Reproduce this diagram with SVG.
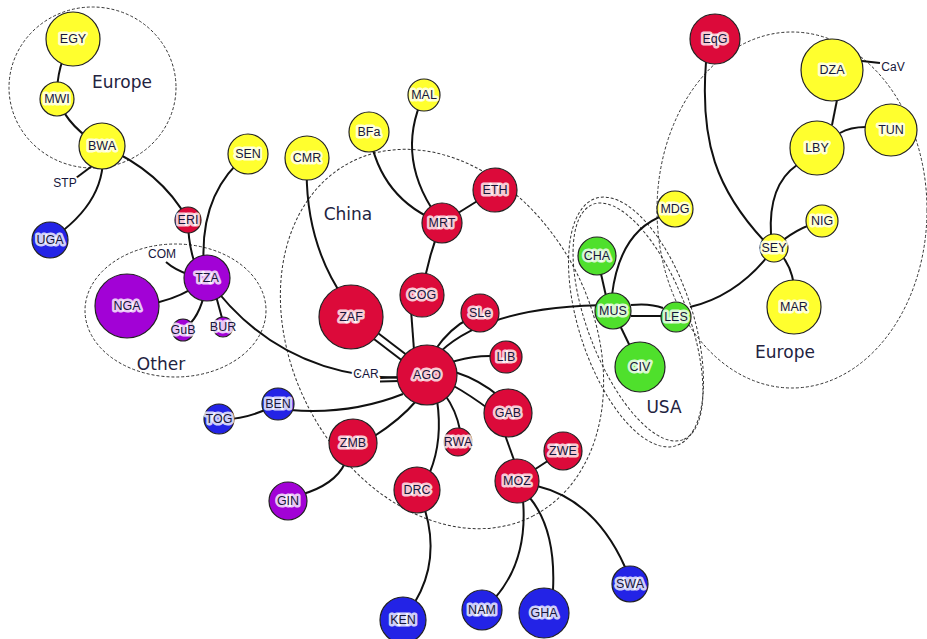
<svg xmlns="http://www.w3.org/2000/svg" width="927" height="639" viewBox="0 0 927 639">
<style>
.reg{fill:none;stroke:#333;stroke-width:1;stroke-dasharray:3 2}
.rl{font-family:"DejaVu Sans",sans-serif;font-size:17px;fill:#23233f;text-anchor:middle}
.e{fill:none;stroke:#111;stroke-width:2}
.n{stroke:#222;stroke-width:1.2}
.Y{fill:#ffff2e}.R{fill:#dc0a3a}.P{fill:#a202d6}.B{fill:#2323e6}.G{fill:#4fe02c}
.t{font-family:"Liberation Sans",Arial,sans-serif;font-size:12.5px;fill:#16163a;text-anchor:middle;paint-order:stroke;stroke:rgba(255,255,255,0.8);stroke-width:5px;stroke-linejoin:round}
.s{font-family:"Liberation Sans",Arial,sans-serif;font-size:12px;fill:#16163a;text-anchor:middle;paint-order:stroke;stroke:#fff;stroke-width:4px;stroke-linejoin:round}
</style>
<rect width="927" height="639" fill="#fff"/>
<g id="regions">
<ellipse class="reg" cx="92.5" cy="87.5" rx="83.5" ry="80.5"/>
<ellipse class="reg" cx="175.5" cy="310.5" rx="90.5" ry="66.5"/>
<ellipse class="reg" cx="442" cy="339" rx="199" ry="150" transform="rotate(62.6 442 339)"/>
<ellipse class="reg" cx="636" cy="322" rx="130" ry="57" transform="rotate(72 636 322)"/>
<ellipse class="reg" cx="638" cy="322" rx="126" ry="50" transform="rotate(69 638 322)"/>
<ellipse class="reg" cx="792" cy="210" rx="135" ry="178"/>
<text class="rl" x="122" y="88">Europe</text>
<text class="rl" x="161" y="370">Other</text>
<text class="rl" x="348" y="220">China</text>
<text class="rl" x="664" y="413">USA</text>
<text class="rl" x="785" y="358">Europe</text>
</g>
<g id="connectors">
<path class="e" d="M73 39 Q56 65 57 99"/>
<path class="e" d="M57 99 Q70 130 102 146"/>
<path class="e" d="M102 146 Q161 171 188 220"/>
<path class="e" d="M92 166 L72 181"/>
<path class="e" d="M102 146 Q110 200 50 240"/>
<path class="e" d="M188 220 Q188 250 200 278"/>
<path class="e" d="M248 154 C215 180 198 220 205 278"/>
<path class="e" d="M166 262 Q175 270 190 275"/>
<path class="e" d="M127 306 Q175 305 207 278"/>
<path class="e" d="M183 330 Q200 318 205 290"/>
<path class="e" d="M222 318 L216 296"/>
<path class="e" d="M207 278 Q280 380 410 378"/>
<path class="e" d="M380 378 L400 377"/>
<path class="e" d="M380 381.5 L400 381"/>
<path class="e" d="M307 158 Q303 240 345 300"/>
<path class="e" d="M349 320 L425 378"/>
<path class="e" d="M353 314 L429 372"/>
<path class="e" d="M369 132 Q380 200 442 223"/>
<path class="e" d="M424 95 Q393 160 442 223"/>
<path class="e" d="M495 190 L442 223"/>
<path class="e" d="M442 223 Q428 255 422 295"/>
<path class="e" d="M411 310 L414 350"/>
<path class="e" d="M470 318 Q450 328 435 350"/>
<path class="e" d="M440 352 Q490 305 613 305"/>
<path class="e" d="M427 375 Q460 352 506 357"/>
<path class="e" d="M455 372 Q480 380 500 397"/>
<path class="e" d="M452 385 Q470 395 490 410"/>
<path class="e" d="M445 395 Q456 410 460 430"/>
<path class="e" d="M437 400 Q443 440 430 472"/>
<path class="e" d="M417 400 Q400 420 373 437"/>
<path class="e" d="M403 394 Q350 415 290 410"/>
<path class="e" d="M219 419 Q245 421 278 404"/>
<path class="e" d="M345 463 Q335 485 300 495"/>
<path class="e" d="M425 510 Q440 560 415 602"/>
<path class="e" d="M505 435 L514 460"/>
<path class="e" d="M517 481 L563 451"/>
<path class="e" d="M523 500 Q528 560 495 598"/>
<path class="e" d="M530 498 Q556 530 553 590"/>
<path class="e" d="M537 486 Q595 500 625 567"/>
<path class="e" d="M597 256 L606 296"/>
<path class="e" d="M612 295 Q620 230 665 215"/>
<path class="e" d="M631 305 Q650 303 663 308"/>
<path class="e" d="M631 316 L662 316"/>
<path class="e" d="M613 311 L640 367"/>
<path class="e" d="M690 307 Q740 295 774 248"/>
<path class="e" d="M706 62 C700 140 715 190 768 245"/>
<path class="e" d="M771 235 Q768 185 797 165"/>
<path class="e" d="M774 248 Q795 228 822 221"/>
<path class="e" d="M774 248 Q790 260 794 285"/>
<path class="e" d="M837 100 L832 125"/>
<path class="e" d="M840 133 Q850 127 866 127"/>
<path class="e" d="M862 61 L880 63"/>
</g>
<g id="labels">
<text class="s" x="65" y="187">STP</text>
<text class="s" x="162" y="258">COM</text>
<text class="s" x="366" y="378">CAR</text>
<text class="s" x="893" y="71">CaV</text>
</g>
<g id="EGY"><circle class="n Y" cx="73" cy="39" r="27"/><text class="t" x="73" y="43">EGY</text></g>
<g id="MWI"><circle class="n Y" cx="57" cy="99" r="17"/><text class="t" x="57" y="103">MWI</text></g>
<g id="BWA"><circle class="n Y" cx="102" cy="146" r="23"/><text class="t" x="102" y="150">BWA</text></g>
<g id="SEN"><circle class="n Y" cx="248" cy="154" r="20"/><text class="t" x="248" y="158">SEN</text></g>
<g id="CMR"><circle class="n Y" cx="307" cy="158" r="22"/><text class="t" x="307" y="162">CMR</text></g>
<g id="BFa"><circle class="n Y" cx="369" cy="132" r="20"/><text class="t" x="369" y="136">BFa</text></g>
<g id="MAL"><circle class="n Y" cx="424" cy="95" r="16"/><text class="t" x="424" y="99">MAL</text></g>
<g id="ERI"><circle class="n R" cx="188" cy="220" r="13"/><text class="t" x="188" y="224">ERI</text></g>
<g id="UGA"><circle class="n B" cx="50" cy="240" r="18"/><text class="t" x="50" y="244">UGA</text></g>
<g id="TZA"><circle class="n P" cx="207" cy="278" r="23"/><text class="t" x="207" y="282">TZA</text></g>
<g id="NGA"><circle class="n P" cx="127" cy="306" r="32"/><text class="t" x="127" y="310">NGA</text></g>
<g id="GuB"><circle class="n P" cx="183" cy="330" r="11"/><text class="t" x="183" y="334">GuB</text></g>
<g id="BUR"><circle class="n P" cx="223" cy="327" r="10"/><text class="t" x="223" y="331">BUR</text></g>
<g id="TOG"><circle class="n B" cx="219" cy="419" r="15"/><text class="t" x="219" y="423">TOG</text></g>
<g id="BEN"><circle class="n B" cx="278" cy="404" r="16"/><text class="t" x="278" y="408">BEN</text></g>
<g id="GIN"><circle class="n P" cx="288" cy="501" r="19"/><text class="t" x="288" y="505">GIN</text></g>
<g id="ETH"><circle class="n R" cx="495" cy="190" r="22"/><text class="t" x="495" y="194">ETH</text></g>
<g id="MRT"><circle class="n R" cx="442" cy="223" r="20"/><text class="t" x="442" y="227">MRT</text></g>
<g id="COG"><circle class="n R" cx="422" cy="295" r="22"/><text class="t" x="422" y="299">COG</text></g>
<g id="ZAF"><circle class="n R" cx="351" cy="317" r="32"/><text class="t" x="351" y="321">ZAF</text></g>
<g id="SLe"><circle class="n R" cx="480" cy="313" r="19"/><text class="t" x="480" y="317">SLe</text></g>
<g id="LIB"><circle class="n R" cx="506" cy="357" r="16"/><text class="t" x="506" y="361">LIB</text></g>
<g id="AGO"><circle class="n R" cx="427" cy="375" r="30"/><text class="t" x="427" y="379">AGO</text></g>
<g id="GAB"><circle class="n R" cx="508" cy="413" r="24"/><text class="t" x="508" y="417">GAB</text></g>
<g id="RWA"><circle class="n R" cx="458" cy="442" r="14"/><text class="t" x="458" y="446">RWA</text></g>
<g id="ZWE"><circle class="n R" cx="563" cy="451" r="19"/><text class="t" x="563" y="455">ZWE</text></g>
<g id="ZMB"><circle class="n R" cx="353" cy="443" r="24"/><text class="t" x="353" y="447">ZMB</text></g>
<g id="DRC"><circle class="n R" cx="417" cy="490" r="23"/><text class="t" x="417" y="494">DRC</text></g>
<g id="MOZ"><circle class="n R" cx="517" cy="481" r="22"/><text class="t" x="517" y="485">MOZ</text></g>
<g id="KEN"><circle class="n B" cx="403" cy="620" r="23"/><text class="t" x="403" y="624">KEN</text></g>
<g id="NAM"><circle class="n B" cx="482" cy="610" r="20"/><text class="t" x="482" y="614">NAM</text></g>
<g id="GHA"><circle class="n B" cx="544" cy="613" r="25"/><text class="t" x="544" y="617">GHA</text></g>
<g id="SWA"><circle class="n B" cx="630" cy="584" r="18"/><text class="t" x="630" y="588">SWA</text></g>
<g id="MDG"><circle class="n Y" cx="675" cy="209" r="18"/><text class="t" x="675" y="213">MDG</text></g>
<g id="CHA"><circle class="n G" cx="597" cy="256" r="19"/><text class="t" x="597" y="260">CHA</text></g>
<g id="MUS"><circle class="n G" cx="613" cy="311" r="18"/><text class="t" x="613" y="315">MUS</text></g>
<g id="LES"><circle class="n G" cx="676" cy="317" r="15"/><text class="t" x="676" y="321">LES</text></g>
<g id="CIV"><circle class="n G" cx="640" cy="367" r="25"/><text class="t" x="640" y="371">CIV</text></g>
<g id="EqG"><circle class="n R" cx="715" cy="39" r="25"/><text class="t" x="715" y="43">EqG</text></g>
<g id="DZA"><circle class="n Y" cx="832" cy="70" r="31"/><text class="t" x="832" y="74">DZA</text></g>
<g id="TUN"><circle class="n Y" cx="891" cy="130" r="26"/><text class="t" x="891" y="134">TUN</text></g>
<g id="LBY"><circle class="n Y" cx="817" cy="148" r="27"/><text class="t" x="817" y="152">LBY</text></g>
<g id="NIG"><circle class="n Y" cx="822" cy="221" r="16"/><text class="t" x="822" y="225">NIG</text></g>
<g id="SEY"><circle class="n Y" cx="774" cy="248" r="14"/><text class="t" x="774" y="252">SEY</text></g>
<g id="MAR"><circle class="n Y" cx="794" cy="307" r="27"/><text class="t" x="794" y="311">MAR</text></g>
</svg>
